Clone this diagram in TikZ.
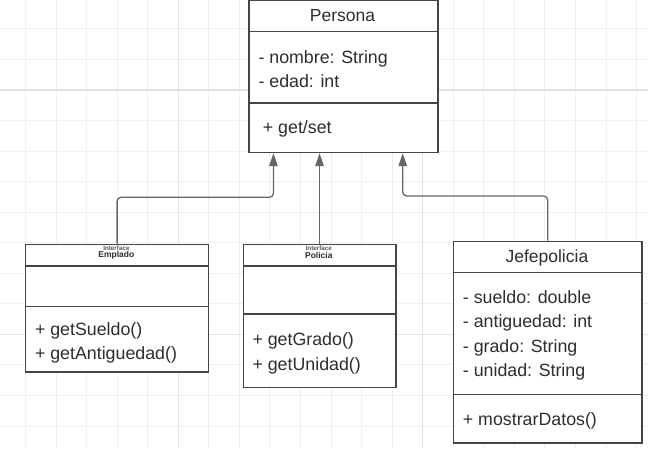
\documentclass[tikz,border=0pt]{standalone}
\usepackage{fontspec}
\setmainfont{Liberation Sans}
\usetikzlibrary{arrows.meta}
\definecolor{gridminor}{HTML}{EFEFEF}
\definecolor{gridmajor}{HTML}{E2E2E2}
\definecolor{boxline}{HTML}{454545}
\definecolor{connline}{HTML}{666666}
\definecolor{txt}{HTML}{2E2E2E}
\tikzset{
  minorgrid/.style={draw=gridminor, line width=1pt},
  majorgrid/.style={draw=gridmajor, line width=1.4pt},
  umlbox/.style={draw=boxline, line width=1.5pt, fill=white, rectangle, inner sep=0pt, anchor=north west},
  divider/.style={draw=boxline, line width=1.5pt},
  conn/.style={draw=connline, line width=1.3pt, rounded corners=4pt, -{Triangle[width=8.5pt,length=13pt]}},
  member/.style={anchor=base west, inner sep=0pt, text=txt, font=\fontsize{17.8}{19}\selectfont},
  title/.style={anchor=base, inner sep=0pt, text=txt, font=\fontsize{17.5}{19}\selectfont},
  ifsmall/.style={inner sep=0pt, text=txt!80, font=\fontsize{6.3}{6.3}\selectfont\bfseries},
  ifname/.style={inner sep=0pt, text=txt, font=\fontsize{8.5}{8.5}\selectfont\bfseries},
}
\begin{document}
\begin{tikzpicture}[x=1pt,y=-1pt]
\useasboundingbox (0,0) rectangle (648,448);
\fill[white] (0,0) rectangle (648,448);
% grid
\foreach \k in {-6,...,15} {
  \pgfmathsetmacro\xx{178.3+30.55*\k}
  \draw[minorgrid] (\xx,0) -- (\xx,448);
}
\foreach \k in {-3,...,12} {
  \pgfmathsetmacro\yy{90+30.55*\k}
  \draw[minorgrid] (0,\yy) -- (648,\yy);
}
\draw[majorgrid] (178.3,0) -- (178.3,448);
\draw[majorgrid] (422.7,0) -- (422.7,448);
\draw[majorgrid] (0,90) -- (648,90);
\draw[majorgrid] (0,334.4) -- (648,334.4);

% Persona
\node[umlbox, minimum width=189pt, minimum height=152.7pt] (persona) at (248,-1) {};
\draw[divider] (248,31.7) -- (437,31.7);
\draw[divider] (248,103) -- (437,103);
\node[title] (pname) at (342.5,21.5) {Persona};
\node[member] (p1) at (258.3,63.5) {- nombre: String};
\node[member] (p2) at (258.3,87.5) {- edad: int};
\node[member] (p3) at (262.7,133.5) {+ get/set};

% Empleado
\node[umlbox, minimum width=183.1pt, minimum height=127.3pt] (empleado) at (24.8,243.7) {};
\draw[divider] (24.8,266) -- (207.9,266);
\draw[divider] (24.8,306.7) -- (207.9,306.7);
\node[ifsmall] (e0) at (116.4,248.2) {Interface};
\node[ifname] (e1) at (116.4,255.3) {Emplado};
\node[member] (e2) at (34.8,335) {+ getSueldo()};
\node[member] (e3) at (34.8,359.4) {+ getAntiguedad()};

% Policia
\node[umlbox, minimum width=152.4pt, minimum height=143pt] (policia) at (242.6,243.7) {};
\draw[divider] (242.6,266) -- (395,266);
\draw[divider] (242.6,314) -- (395,314);
\node[ifsmall] (c0) at (318.8,248.2) {Interface};
\node[ifname] (c1) at (318.8,255.3) {Policia};
\node[member] (c2) at (252.3,345.7) {+ getGrado()};
\node[member] (c3) at (252.3,370.5) {+ getUnidad()};

% Jefepolicia
\node[umlbox, minimum width=188.8pt, minimum height=201.6pt] (jefe) at (452.5,240.7) {};
\draw[divider] (452.5,272.7) -- (641.3,272.7);
\draw[divider] (452.5,394.3) -- (641.3,394.3);
\node[title] (jname) at (546.9,262.5) {Jefepolicia};
\node[member] (j1) at (462.7,303) {- sueldo: double};
\node[member] (j2) at (462.7,327.6) {- antiguedad: int};
\node[member] (j3) at (462.7,352.2) {- grado: String};
\node[member] (j4) at (462.7,376.8) {- unidad: String};
\node[member] (j5) at (462.7,425.2) {+ mostrarDatos()};

% connectors
\coordinate (hE) at (0,197.3);
\coordinate (hJ) at (0,196);
\draw[conn] (empleado.north) -- (empleado.north |- hE) -- ([xshift=-69.8pt]persona.south |- hE) -- ([xshift=-69.8pt]persona.south);
\draw[conn] (policia.north) -- (policia.north |- persona.south);
\draw[conn] (jefe.north) -- (jefe.north |- hJ) -- ([xshift=59.5pt]persona.south |- hJ) -- ([xshift=59.5pt]persona.south);
\end{tikzpicture}
\end{document}
